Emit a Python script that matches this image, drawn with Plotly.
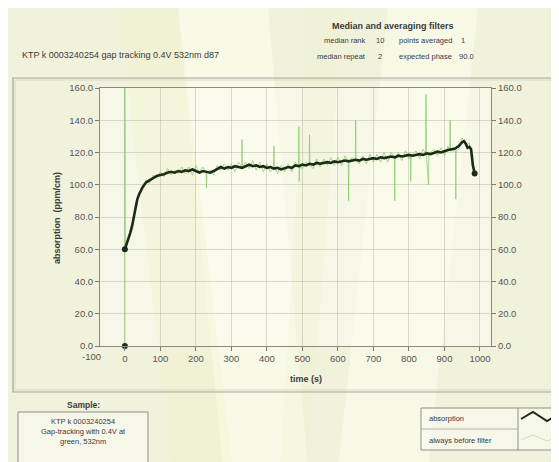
import plotly.graph_objects as go

# ---------------- data ----------------
filt_t = [0, 5, 10, 15, 20, 25, 30, 35, 40, 50, 60, 70, 80, 90, 100, 110, 120, 130, 140, 150, 160,
          170, 180, 190, 200, 210, 220, 230, 240, 250, 260, 270, 280, 290, 300, 310, 320, 330,
          340, 350, 360, 370, 380, 390, 400, 410, 420, 430, 440, 450, 460, 470, 480, 490, 500,
          510, 520, 530, 540, 550, 560, 570, 580, 590, 600, 610, 620, 630, 640, 650, 660, 670,
          680, 690, 700, 710, 720, 730, 740, 750, 760, 770, 780, 790, 800, 810, 820, 830, 840,
          850, 860, 870, 880, 890, 900, 910, 920, 930, 940, 950, 955, 960, 965, 970, 975, 980, 985]
filt_y = [60, 63, 66, 70, 74, 80, 86, 91, 94, 98.5, 101.5, 103, 104.5, 105.5, 106, 106.5, 107.5, 108,
          107.5, 108.5, 108, 109, 108.5, 109.5, 108.5, 107.5, 108.5, 108, 107.5, 108.5, 109.5,
          111, 110, 111, 110.5, 111.5, 111, 110.5, 111.5, 112.5, 111.5, 112, 111, 111.5, 110.5,
          111, 110, 110.5, 109.5, 110.5, 111, 110.5, 112, 111.5, 112.5, 112, 113, 112.5, 113.5,
          113, 113.5, 114, 113.5, 114.5, 114, 114.5, 115, 114.5, 115, 115.5, 115, 116, 115.5,
          116, 116.5, 116, 117, 116.5, 117, 117.5, 117, 118, 117.5, 118, 118.5, 118, 118.5, 119,
          118.5, 119.5, 119, 120, 120.5, 120, 121, 121.5, 122, 122.5, 124, 126.5, 127, 125.5,
          123, 123.5, 122, 112, 107]

raw_t = [0, 0, 1, 10, 20, 30, 40, 50, 60, 70, 80, 90, 100, 110, 120, 130, 140, 150, 160, 170,
         180, 190, 200, 210, 220, 229, 230, 231, 240, 250, 260, 270, 280, 290, 300, 310, 320,
         329, 330, 331, 340, 350, 360, 370, 380, 390, 400, 410, 419, 420, 421, 430, 440, 450,
         460, 470, 480, 489, 490, 491, 492, 500, 510, 519, 520, 521, 530, 540, 550, 560, 570,
         580, 590, 600, 610, 620, 629, 630, 631, 640, 649, 650, 651, 660, 670, 680, 690, 700,
         710, 720, 730, 740, 750, 759, 760, 761, 770, 780, 790, 800, 804, 805, 806, 820, 830,
         840, 847, 848, 849, 855, 856, 870, 880, 890, 900, 910, 915, 916, 917, 931, 932, 933,
         940, 950, 960, 970, 980, 990]
raw_y = [0, 175, 62, 67, 75, 88, 95, 98, 103, 101, 106, 104, 108, 105, 110, 106, 109, 107, 111, 107,
         111, 106, 112, 108, 111, 107, 98, 107, 109, 106, 112, 109, 113, 109, 113, 108, 114,
         111, 128, 111, 114, 110, 115, 109, 114, 108, 113, 108, 111, 124, 111, 107, 112, 108,
         113, 108, 114, 111, 136, 102, 111, 110, 114, 112, 131, 112, 110, 116, 111, 116, 112,
         117, 112, 117, 112, 118, 114, 90, 114, 117, 115, 140, 115, 113, 118, 113, 119, 114,
         119, 114, 120, 114, 120, 117, 90, 117, 120, 115, 121, 116, 118, 102, 118, 121, 116,
         122, 119, 156, 119, 100, 119, 122, 118, 123, 118, 124, 121, 140, 121, 121, 91, 121,
         122, 129, 124, 126, 110, 106]

x_ticks = [0, 100, 200, 300, 400, 500, 600, 700, 800, 900, 1000]
y_ticks = [0, 20, 40, 60, 80, 100, 120, 140, 160]

# ---------------- geometry helpers ----------------
L, R, T, B = 92, 483, 80, 338
W, H = R - L, B - T


def px(x):
    return (x - L) / W


def py(y):
    return (B - y) / H


FONT = "Liberation Sans"
TXT = "#3a3a3a"

fig = go.Figure()

fig.add_trace(go.Scatter(x=raw_t, y=raw_y, mode="lines",
                         line=dict(color="rgba(130,200,100,0.7)", width=1),
                         showlegend=False, hoverinfo="skip"))
fig.add_trace(go.Scatter(x=filt_t, y=filt_y, mode="lines",
                         line=dict(color="#1b2b18", width=2.6),
                         showlegend=False))
fig.add_trace(go.Scatter(x=[filt_t[0], filt_t[-1], raw_t[0]], y=[filt_y[0], filt_y[-1], raw_y[0]],
                         mode="markers", marker=dict(color="#1b2b18", size=6),
                         showlegend=False, cliponaxis=False))
# invisible trace for right axis
fig.add_trace(go.Scatter(x=[filt_t[0]], y=[filt_y[0]], yaxis="y2", mode="markers",
                         marker=dict(opacity=0), showlegend=False, hoverinfo="skip"))

axis_common = dict(showline=True, linecolor="#8a8a80", linewidth=1, ticks="outside",
                   ticklen=4, tickcolor="#7a7a70", tickfont=dict(family=FONT, size=9.5, color="#555"),
                   gridcolor="rgba(175,175,160,0.45)", gridwidth=1, zeroline=False)

fig.update_layout(
    width=559, height=462,
    margin=dict(l=L, r=559 - R, t=T, b=462 - B),
    paper_bgcolor="#f1f2dc",
    plot_bgcolor="rgba(250,250,236,0.6)",
    xaxis=dict(range=[-70, 1031], tickvals=x_ticks, mirror=True, **axis_common),
    yaxis=dict(range=[0, 160], tickvals=y_ticks, tickformat=".1f", mirror=True, **axis_common),
    yaxis2=dict(range=[0, 160], tickvals=y_ticks, tickformat=".1f", overlaying="y", side="right",
                showgrid=False, **{k: v for k, v in axis_common.items() if k not in ("gridcolor", "gridwidth")}),
)

shapes = []
# background streaks (wallpaper)
streaks = [
    ([(170, 0), (260, 0), (300, 462), (215, 462)], "rgba(255,255,242,0.55)"),
    ([(110, 0), (170, 0), (225, 462), (165, 462)], "rgba(242,243,200,0.3)"),
    ([(380, 0), (470, 0), (420, 462), (330, 462)], "rgba(255,255,242,0.45)"),
    ([(300, 0), (335, 0), (300, 462), (272, 462)], "rgba(240,243,205,0.3)"),
]
for pts, col in streaks:
    path = "M " + " L ".join(f"{px(x)} {py(y)}" for x, y in pts) + " Z"
    shapes.append(dict(type="path", path=path, xref="paper", yref="paper",
                       fillcolor=col, line=dict(width=0), layer="below"))


def rect(x0, y0, x1, y1, color="#9a9a90", width=1, fill=None, layer="above"):
    d = dict(type="rect", xref="paper", yref="paper", x0=px(x0), x1=px(x1), y0=py(y1), y1=py(y0),
             line=dict(color=color, width=width), layer=layer)
    if fill:
        d["fillcolor"] = fill
    return d


def line(x0, y0, x1, y1, color="#9a9a90", width=1):
    return dict(type="line", xref="paper", yref="paper", x0=px(x0), x1=px(x1), y0=py(y0), y1=py(y1),
                line=dict(color=color, width=width))


# outer panel frame
shapes.append(rect(5, 70, 553, 384, color="#a5a59a", width=1.2))
shapes.append(rect(7, 72, 551, 382, color="#d8d8c8", width=1))
# sample box
shapes.append(rect(10, 404, 140, 472, color="#8f8f86", width=1, fill="rgba(250,250,240,0.6)"))
# legend box
shapes.append(rect(413, 400, 555, 442, color="#8f8f86", width=1, fill="rgba(250,250,240,0.6)"))
shapes.append(line(510, 400, 510, 442, color="#8f8f86"))
shapes.append(line(413, 421, 510, 421, color="#b0b0a5"))
# legend glyphs
icon = [(513, 411), (525, 404), (539, 413), (553, 405)]
path = "M " + " L ".join(f"{px(x)} {py(y)}" for x, y in icon)
shapes.append(dict(type="path", path=path, xref="paper", yref="paper",
                   line=dict(color="#1b2b18", width=2)))
icon2 = [(513, 432), (525, 427), (539, 433), (553, 428)]
path2 = "M " + " L ".join(f"{px(x)} {py(y)}" for x, y in icon2)
shapes.append(dict(type="path", path=path2, xref="paper", yref="paper",
                   line=dict(color="rgba(150,205,120,0.5)", width=1)))

fig.update_layout(shapes=shapes)


def ann(x, y, text, size=8, bold=False, xanchor="center", color=TXT, angle=0):
    fig.add_annotation(x=px(x), y=py(y), xref="paper", yref="paper", showarrow=False,
                       text=f"<b>{text}</b>" if bold else text, xanchor=xanchor, yanchor="middle",
                       textangle=angle, font=dict(family=FONT, size=size, color=color))


ann(12, 47, "KTP k 0003240254 gap tracking 0.4V 532nm d87", size=9, xanchor="left")
ann(385, 18, "Median and averaging filters", size=9, bold=True)
ann(360, 33, "median rank", size=7.5, xanchor="right")
ann(372, 33, "10", size=7.5)
ann(446, 33, "points averaged", size=7.5, xanchor="right")
ann(455, 33, "1", size=7.5)
ann(360, 48, "median repeat", size=7.5, xanchor="right")
ann(372, 48, "2", size=7.5)
ann(446, 48, "expected phase", size=7.5, xanchor="right")
ann(458, 48, "90.0", size=7.5)

ann(49, 210, "absorption  (ppm/cm)", size=9, bold=True, angle=-90)
ann(298, 371, "time (s)", size=9, bold=True)
ann(83, 348, "-100", size=9.5, color="#555")

ann(75, 397, "Sample:", size=8.5, bold=True)
ann(75, 413, "KTP k 0003240254", size=7.5)
ann(75, 423, "Gap-tracking with 0.4V at", size=7.5)
ann(75, 433, "green, 532nm", size=7.5)

ann(419, 410, "absorption", size=7.5, xanchor="left")
ann(419, 432, "always before filter", size=7.5, xanchor="left")

fig.write_html("out.html")
